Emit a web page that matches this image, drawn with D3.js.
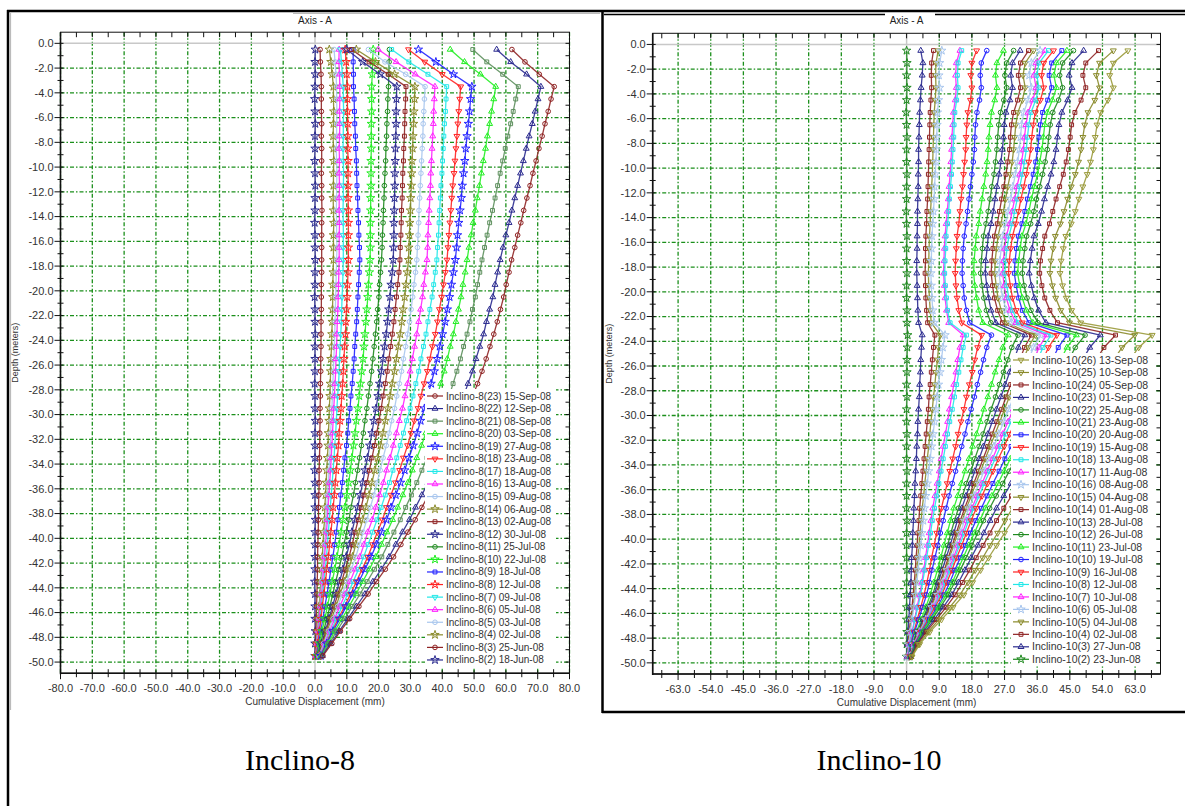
<!DOCTYPE html>
<html>
<head>
<meta charset="utf-8">
<script src="https://cdn.jsdelivr.net/npm/d3@7"></script>
<style>
  body { margin: 0; background: #fff; }
  svg { display: block; font-family: "Liberation Sans", Arial, sans-serif; }
</style>
</head>
<body>
<svg id="fig" width="1185" height="806"></svg>
<script>
// reading depths (m), one every metre
const depths = [-0.5,-1.5,-2.5,-3.5,-4.5,-5.5,-6.5,-7.5,-8.5,-9.5,-10.5,-11.5,-12.5,-13.5,-14.5,-15.5,-16.5,-17.5,-18.5,-19.5,
  -20.5,-21.5,-22.5,-23.5,-24.5,-25.5,-26.5,-27.5,-28.5,-29.5,-30.5,-31.5,-32.5,-33.5,-34.5,-35.5,-36.5,-37.5,-38.5,-39.5,
  -40.5,-41.5,-42.5,-43.5,-44.5,-45.5,-46.5,-47.5,-48.5,-49.5];

const yTicks = [0,-2,-4,-6,-8,-10,-12,-14,-16,-18,-20,-22,-24,-26,-28,-30,-32,-34,-36,-38,-40,-42,-44,-46,-48,-50];
const i8XTicks = [-80,-70,-60,-50,-40,-30,-20,-10,0,10,20,30,40,50,60,70,80];
const i10XTicks = [-63,-54,-45,-36,-27,-18,-9,0,9,18,27,36,45,54,63];

// ---- Inclino-8, series (2) .. (23)
const i8Labels = ["Inclino-8(2) 18-Jun-08","Inclino-8(3) 25-Jun-08","Inclino-8(4) 02-Jul-08","Inclino-8(5) 03-Jul-08",
  "Inclino-8(6) 05-Jul-08","Inclino-8(7) 09-Jul-08","Inclino-8(8) 12-Jul-08","Inclino-8(9) 18-Jul-08","Inclino-8(10) 22-Jul-08",
  "Inclino-8(11) 25-Jul-08","Inclino-8(12) 30-Jul-08","Inclino-8(13) 02-Aug-08","Inclino-8(14) 06-Aug-08","Inclino-8(15) 09-Aug-08",
  "Inclino-8(16) 13-Aug-08","Inclino-8(17) 18-Aug-08","Inclino-8(18) 23-Aug-08","Inclino-8(19) 27-Aug-08","Inclino-8(20) 03-Sep-08",
  "Inclino-8(21) 08-Sep-08","Inclino-8(22) 12-Sep-08","Inclino-8(23) 15-Sep-08"];
const i8Colors = ["#2a2a8f","#8f2323","#8a8a2a","#a8c6ee","#ff22ff","#22e8e8","#ff2222","#2222ff","#22ee22","#1f8a1f",
  "#2a2a8f","#8f2323","#8a8a2a","#a8c6ee","#ff22ff","#22e8e8","#ff2222","#2222ff","#22ee22","#5c8f5c","#2a2a8f","#8f2323"];
const i8Symbols = ["star","circle","star","circle","triangle","triDown","star","square","star","circle",
  "star","square","star","circle","triangle","square","triDown","star","triangle","square","triangle","circle"];
const i8Values = [
  [0.1,0,0.1,0,-0.1,0,0.1,0,0,-0.1,0,0.1,0,0,-0.1,0,0,0.1,0,0,-0.1,0,0,0.1,0,0,0,-0.1,0,0,0.1,0,0,0,-0.1,0,0,0,0.1,0,0,0,0,-0.1,0,0,0,0.1,0,0],
  [1.6,1.7,1.9,2.0,2.0,2.0,2.1,2.0,2.1,2.1,2.0,2.1,2.1,2.2,2.1,2.1,2.1,2.1,2.1,2.0,2.0,2.0,1.9,1.9,1.9,1.8,1.8,1.7,1.7,1.6,1.6,1.5,1.5,1.4,1.3,1.3,1.2,1.1,1.1,1.0,0.9,0.8,0.8,0.7,0.6,0.5,0.4,0.3,0.2,0.1],
  [4.5,5.0,5.4,5.8,5.8,5.9,5.8,5.7,5.8,5.9,5.8,5.8,5.7,5.8,5.9,5.8,5.8,5.8,5.7,5.6,5.6,5.5,5.4,5.3,5.2,5.0,4.9,4.8,4.7,4.5,4.4,4.2,4.1,3.9,3.7,3.5,3.3,3.1,3.0,2.7,2.5,2.3,2.1,1.8,1.6,1.3,1.0,0.8,0.5,0.2],
  [6.0,6.3,6.6,6.8,6.8,6.9,6.8,6.8,6.7,6.8,6.9,6.8,6.8,6.7,6.8,6.8,6.9,6.8,6.7,6.6,6.5,6.4,6.3,6.2,6.1,5.9,5.8,5.6,5.5,5.3,5.1,4.9,4.8,4.6,4.4,4.1,3.9,3.7,3.5,3.2,3.0,2.7,2.4,2.1,1.8,1.5,1.2,0.9,0.6,0.3],
  [7.6,7.5,7.7,7.8,7.8,7.7,7.8,7.7,7.6,7.7,7.6,7.7,7.6,7.6,7.7,7.6,7.6,7.6,7.5,7.4,7.3,7.2,7.0,6.9,6.8,6.6,6.5,6.3,6.1,5.9,5.7,5.5,5.3,5.1,4.9,4.6,4.4,4.1,3.9,3.6,3.3,3.0,2.7,2.4,2.1,1.7,1.3,1.0,0.6,0.3],
  [8.0,8.3,8.6,8.9,8.9,9.0,8.9,8.9,8.8,8.9,9.0,8.9,8.9,8.8,8.9,8.9,8.9,8.9,8.8,8.7,8.5,8.4,8.3,8.1,7.9,7.7,7.6,7.4,7.1,6.9,6.7,6.5,6.2,6.0,5.7,5.4,5.1,4.8,4.5,4.2,3.9,3.6,3.2,2.8,2.4,2.0,1.6,1.2,0.8,0.4],
  [9.5,9.8,10.0,10.2,10.2,10.2,10.3,10.3,10.3,10.4,10.4,10.4,10.4,10.5,10.5,10.5,10.5,10.5,10.4,10.2,10.1,9.9,9.7,9.6,9.3,9.1,8.9,8.7,8.4,8.2,7.9,7.6,7.4,7.0,6.7,6.4,6.1,5.7,5.4,5.0,4.6,4.2,3.7,3.3,2.8,2.3,1.9,1.4,0.9,0.4],
  [12.0,12.0,12.1,12.1,12.3,12.4,12.5,12.7,12.8,13.0,13.1,13.2,13.4,13.5,13.7,13.8,14.0,14.1,13.9,13.7,13.5,13.3,13.1,12.8,12.5,12.3,12.0,11.7,11.3,11.0,10.6,10.3,9.9,9.4,9.0,8.6,8.1,7.7,7.2,6.7,6.2,5.6,5.0,4.4,3.8,3.1,2.5,1.8,1.2,0.6],
  [18.3,18.1,18.0,17.8,17.8,17.8,17.7,17.7,17.7,17.6,17.6,17.6,17.5,17.5,17.4,17.4,17.4,17.3,17.1,16.8,16.6,16.3,16.0,15.7,15.4,15.1,14.7,14.3,13.9,13.5,13.0,12.6,12.1,11.6,11.1,10.6,10.0,9.4,8.8,8.2,7.6,6.9,6.2,5.4,4.7,3.9,3.1,2.2,1.5,0.7],
  [23.4,23.3,23.2,23.1,22.9,22.8,22.6,22.5,22.3,22.2,22.0,21.8,21.7,21.5,21.4,21.2,21.1,20.9,20.6,20.3,20.1,19.7,19.4,19.0,18.6,18.2,17.8,17.3,16.8,16.3,15.7,15.2,14.6,14.0,13.4,12.7,12.1,11.3,10.7,9.9,9.1,8.4,7.5,6.5,5.6,4.7,3.7,2.7,1.8,0.8],
  [10.0,15.0,20.5,25.7,25.6,25.5,25.5,25.4,25.3,25.2,25.1,25.1,25.0,24.9,24.8,24.8,24.7,24.6,24.3,23.9,23.6,23.2,22.8,22.4,21.9,21.4,20.9,20.3,19.8,19.2,18.5,17.9,17.2,16.5,15.7,15.0,14.2,13.4,12.5,11.6,10.8,9.8,8.8,7.7,6.6,5.5,4.4,3.2,2.1,1.0],
  [11.5,17.0,23.0,28.6,28.5,28.3,28.2,28.1,27.9,27.8,27.6,27.5,27.4,27.2,27.1,27.0,26.8,26.7,26.4,26.0,25.6,25.2,24.8,24.3,23.8,23.2,22.7,22.1,21.4,20.8,20.1,19.4,18.7,17.9,17.1,16.3,15.4,14.5,13.6,12.6,11.7,10.7,9.5,8.4,7.2,6.0,4.7,3.5,2.3,1.1],
  [13.0,19.0,25.0,31.4,31.3,31.1,31.0,30.8,30.7,30.5,30.4,30.3,30.1,30.0,29.8,29.7,29.5,29.4,29.0,28.6,28.2,27.7,27.3,26.8,26.2,25.6,25.0,24.3,23.6,22.9,22.1,21.4,20.6,19.7,18.8,17.9,17.0,16.0,15.0,13.9,12.8,11.8,10.5,9.2,7.9,6.6,5.2,3.8,2.5,1.2],
  [16.8,22.0,28.5,34.6,34.4,34.2,34.0,33.9,33.7,33.5,33.3,33.1,32.9,32.7,32.6,32.4,32.2,32.0,31.6,31.1,30.7,30.2,29.7,29.1,28.5,27.8,27.2,26.5,25.7,25.0,24.1,23.3,22.4,21.4,20.5,19.5,18.5,17.4,16.3,15.1,14.0,12.8,11.4,10.0,8.6,7.1,5.7,4.2,2.7,1.3],
  [19.9,25.5,31.5,37.7,37.5,37.3,37.2,37.0,36.8,36.6,36.4,36.3,36.1,35.9,35.7,35.5,35.4,35.2,34.7,34.2,33.8,33.2,32.6,32.0,31.3,30.6,29.9,29.1,28.3,27.5,26.5,25.6,24.6,23.6,22.5,21.5,20.3,19.1,18.0,16.6,15.4,14.1,12.6,11.0,9.5,7.8,6.2,4.6,3.0,1.4],
  [24.1,29.5,35.5,41.4,41.2,41.0,40.7,40.5,40.3,40.1,39.9,39.6,39.4,39.2,39.0,38.8,38.5,38.3,37.8,37.3,36.8,36.1,35.5,34.9,34.1,33.3,32.6,31.7,30.8,29.9,28.8,27.8,26.8,25.7,24.5,23.4,22.1,20.8,19.5,18.1,16.7,15.3,13.7,12.0,10.3,8.5,6.8,5.0,3.3,1.5],
  [29.4,34.5,40.0,45.8,45.5,45.2,44.9,44.6,44.3,44.0,43.7,43.3,43.0,42.7,42.4,42.1,41.8,41.5,41.0,40.4,39.8,39.1,38.5,37.8,36.9,36.1,35.3,34.3,33.3,32.4,31.2,30.2,29.1,27.8,26.6,25.3,23.9,22.5,21.2,19.6,18.1,16.6,14.8,13.0,11.2,9.3,7.3,5.4,3.5,1.7],
  [32.5,38.0,43.5,49.3,48.9,48.6,48.2,47.8,47.4,47.1,46.7,46.3,46.0,45.6,45.2,44.8,44.5,44.1,43.5,42.9,42.3,41.6,40.9,40.1,39.2,38.4,37.5,36.5,35.4,34.4,33.2,32.1,30.9,29.5,28.2,26.9,25.4,23.9,22.5,20.9,19.3,17.6,15.7,13.8,11.9,9.8,7.8,5.7,3.7,1.8],
  [42.5,47.0,52.0,56.8,56.2,55.5,54.9,54.2,53.6,52.9,52.3,51.7,51.0,50.4,49.7,49.1,48.4,47.8,47.2,46.5,45.9,45.1,44.3,43.5,42.5,41.6,40.6,39.5,38.4,37.3,36.0,34.8,33.5,32.0,30.6,29.2,27.6,26.0,24.4,22.6,20.9,19.1,17.1,15.0,12.9,10.7,8.5,6.2,4.1,1.9],
  [49.6,54.0,59.0,63.9,63.1,62.3,61.5,60.6,59.8,59.0,58.2,57.4,56.6,55.8,54.9,54.1,53.3,52.5,51.8,51.1,50.4,49.5,48.7,47.8,46.7,45.7,44.6,43.4,42.2,41.0,39.5,38.2,36.8,35.2,33.6,32.0,30.3,28.5,26.8,24.8,22.9,21.0,18.7,16.4,14.2,11.7,9.3,6.8,4.5,2.1],
  [57.1,61.5,66.5,71.0,70.1,69.2,68.3,67.3,66.4,65.5,64.6,63.7,62.8,61.9,61.0,60.0,59.1,58.2,57.4,56.6,55.9,54.9,53.9,53.0,51.8,50.6,49.5,48.1,46.7,45.4,43.8,42.3,40.7,39.0,37.2,35.5,33.6,31.6,29.7,27.5,25.4,23.3,20.8,18.2,15.7,13.0,10.3,7.6,4.9,2.3],
  [61.9,66.0,70.5,75.2,74.2,73.3,72.3,71.4,70.4,69.5,68.5,67.6,66.6,65.6,64.7,63.7,62.8,61.8,61.0,60.1,59.3,58.3,57.3,56.2,55.0,53.8,52.5,51.1,49.6,48.2,46.5,44.9,43.3,41.4,39.6,37.7,35.7,33.6,31.5,29.2,27.0,24.7,22.1,19.3,16.7,13.8,10.9,8.0,5.3,2.5]
];

// ---- Inclino-10, series (2) .. (26)
const i10Labels = ["Inclino-10(2) 23-Jun-08","Inclino-10(3) 27-Jun-08","Inclino-10(4) 02-Jul-08","Inclino-10(5) 04-Jul-08",
  "Inclino-10(6) 05-Jul-08","Inclino-10(7) 10-Jul-08","Inclino-10(8) 12-Jul-08","Inclino-10(9) 16-Jul-08","Inclino-10(10) 19-Jul-08",
  "Inclino-10(11) 23-Jul-08","Inclino-10(12) 26-Jul-08","Inclino-10(13) 28-Jul-08","Inclino-10(14) 01-Aug-08","Inclino-10(15) 04-Aug-08",
  "Inclino-10(16) 08-Aug-08","Inclino-10(17) 11-Aug-08","Inclino-10(18) 13-Aug-08","Inclino-10(19) 15-Aug-08","Inclino-10(20) 20-Aug-08",
  "Inclino-10(21) 23-Aug-08","Inclino-10(22) 25-Aug-08","Inclino-10(23) 01-Sep-08","Inclino-10(24) 05-Sep-08","Inclino-10(25) 10-Sep-08",
  "Inclino-10(26) 13-Sep-08"];
const i10Colors = ["#1f8a1f","#2a2a8f","#8f2323","#8a8a2a","#a8c6ee","#ff22ff","#22e8e8","#ff2222","#2222ff","#22ee22",
  "#1f8a1f","#2a2a8f","#8f2323","#8a8a2a","#a8c6ee","#ff22ff","#22e8e8","#ff2222","#2222ff","#22ee22",
  "#1f8a1f","#2a2a8f","#8f2323","#8a8a2a","#9a9a3a"];
const i10Symbols = ["star","triangle","square","triDown","star","triangle","square","triDown","circle","triangle",
  "circle","triangle","square","triDown","star","triangle","square","triDown","square","triangle",
  "circle","triangle","square","triDown","triDown"];
const i10Values = [
  [0,0.1,0,0.1,0,-0.1,0,0.1,0,0,0.1,0,0,-0.1,0,0.1,0,0,0.1,0,0,0.1,0.1,0.3,0.2,0.1,0.1,0,0.1,0,0,0.1,0,0,0.1,0,0,0,0.1,0,0,0,0.1,0,0,0,0,0.1,0,0],
  [3.9,4.5,4.3,4.0,3.8,3.6,3.5,3.4,3.3,3.3,3.2,3.2,3.1,3.0,3.0,2.9,2.9,2.8,2.8,2.9,3.0,3.1,3.3,4.3,4.1,3.9,3.8,3.6,3.5,3.3,3.1,3.0,2.8,2.7,2.5,2.3,2.2,2.0,1.9,1.7,1.6,1.4,1.3,1.2,1.0,0.8,0.6,0.4,0.2,0.1],
  [7.4,6.9,6.8,6.9,6.7,6.5,6.4,6.3,6.2,6.1,6.0,5.9,5.8,5.6,5.5,5.3,5.2,5.2,5.1,5.2,5.3,5.5,5.8,7.8,7.4,7.1,6.8,6.5,6.2,6.0,5.7,5.4,5.1,4.8,4.5,4.2,3.9,3.6,3.4,3.1,2.9,2.6,2.4,2.1,1.8,1.5,1.1,0.7,0.4,0.2],
  [8.7,8.1,8.0,8.1,7.9,7.6,7.5,7.4,7.3,7.2,7.1,6.9,6.8,6.6,6.5,6.3,6.2,6.1,6.0,6.1,6.3,6.5,6.8,9.3,8.8,8.5,8.1,7.8,7.4,7.1,6.7,6.4,6.1,5.7,5.4,5.0,4.7,4.3,4.0,3.7,3.4,3.1,2.8,2.5,2.2,1.8,1.3,0.9,0.5,0.2],
  [9.7,9.1,8.9,9.1,8.8,8.5,8.4,8.3,8.2,8.1,7.9,7.7,7.6,7.4,7.2,7.0,6.9,6.8,6.7,6.8,7.0,7.2,7.6,10.6,10.0,9.6,9.2,8.8,8.4,8.1,7.7,7.3,6.9,6.5,6.1,5.7,5.3,4.9,4.6,4.2,3.9,3.5,3.2,2.8,2.5,2.0,1.5,1.0,0.6,0.2],
  [14.7,13.7,13.5,13.7,13.4,12.9,12.7,12.5,12.4,12.2,12.0,11.7,11.5,11.2,10.9,10.6,10.4,10.3,10.2,10.4,10.6,11.0,11.6,15.6,14.7,14.1,13.6,13.0,12.4,11.8,11.3,10.7,10.1,9.5,9.0,8.4,7.8,7.2,6.7,6.2,5.7,5.2,4.7,4.2,3.6,2.9,2.2,1.5,0.8,0.3],
  [15.2,14.2,14.0,14.2,13.8,13.3,13.1,13.0,12.8,12.6,12.4,12.1,11.8,11.6,11.3,10.9,10.8,10.6,10.5,10.7,11.0,11.3,12.0,16.5,15.6,15.0,14.4,13.8,13.2,12.6,11.9,11.3,10.7,10.1,9.5,8.9,8.3,7.7,7.1,6.6,6.1,5.5,5.0,4.4,3.9,3.1,2.3,1.6,0.9,0.4],
  [19.3,18.0,17.7,18.0,17.6,16.9,16.6,16.4,16.3,16.0,15.7,15.4,15.0,14.7,14.4,13.9,13.7,13.5,13.4,13.6,13.9,14.4,15.2,20.7,19.6,18.8,18.1,17.3,16.5,15.8,15.0,14.2,13.5,12.7,11.9,11.2,10.4,9.6,8.9,8.3,7.6,6.9,6.3,5.6,4.8,3.9,2.9,2.0,1.1,0.5],
  [22.1,20.6,20.3,20.6,20.1,19.4,19.0,18.8,18.7,18.4,18.0,17.6,17.2,16.8,16.4,15.9,15.6,15.4,15.3,15.6,15.9,16.5,17.4,23.4,22.1,21.2,20.4,19.5,18.7,17.8,16.9,16.1,15.2,14.3,13.5,12.6,11.7,10.9,10.1,9.3,8.6,7.8,7.0,6.3,5.5,4.4,3.3,2.2,1.2,0.5],
  [26.7,24.9,24.5,24.9,24.3,23.4,23.0,22.7,22.5,22.2,21.8,21.3,20.8,20.3,19.9,19.2,18.9,18.6,18.5,18.8,19.3,19.9,21.0,28.0,26.5,25.5,24.4,23.4,22.4,21.3,20.3,19.3,18.2,17.2,16.1,15.1,14.1,13.0,12.1,11.2,10.3,9.4,8.5,7.5,6.5,5.3,4.0,2.7,1.5,0.6],
  [29.5,27.6,27.1,27.6,26.8,25.9,25.4,25.1,24.9,24.5,24.1,23.5,23.0,22.5,21.9,21.2,20.9,20.6,20.4,20.8,21.3,22.0,23.2,30.7,29.0,27.9,26.7,25.6,24.5,23.3,22.2,21.1,20.0,18.8,17.7,16.5,15.4,14.3,13.2,12.2,11.3,10.2,9.3,8.2,7.2,5.8,4.4,2.9,1.6,0.7],
  [31.3,29.2,28.7,29.2,28.5,27.4,26.9,26.7,26.4,26.0,25.5,24.9,24.4,23.9,23.3,22.5,22.2,21.8,21.7,22.1,22.6,23.3,24.6,32.6,30.8,29.6,28.4,27.2,26.0,24.8,23.6,22.4,21.2,20.0,18.8,17.6,16.4,15.2,14.0,13.0,12.0,10.9,9.8,8.7,7.6,6.2,4.6,3.1,1.7,0.7],
  [33.6,31.4,30.8,31.4,30.6,29.5,28.9,28.6,28.4,27.9,27.4,26.8,26.2,25.6,25.0,24.2,23.8,23.5,23.3,23.7,24.2,25.1,26.4,34.4,32.5,31.2,30.0,28.7,27.4,26.2,24.9,23.6,22.4,21.1,19.8,18.5,17.3,16.0,14.8,13.7,12.6,11.5,10.4,9.2,8.0,6.5,4.9,3.3,1.8,0.7],
  [35.0,32.7,32.1,32.7,31.9,30.7,30.1,29.8,29.5,29.1,28.6,27.9,27.3,26.7,26.0,25.2,24.8,24.4,24.3,24.7,25.2,26.1,27.5,35.5,33.5,32.2,30.9,29.6,28.3,27.0,25.7,24.4,23.0,21.7,20.4,19.1,17.8,16.5,15.3,14.1,13.0,11.8,10.7,9.5,8.3,6.7,5.0,3.4,1.9,0.8],
  [36.8,34.4,33.8,34.4,33.5,32.3,31.7,31.4,31.1,30.6,30.0,29.3,28.7,28.0,27.4,26.5,26.1,25.7,25.5,25.9,26.5,27.5,29.0,37.0,35.0,33.6,32.3,30.9,29.5,28.2,26.8,25.4,24.1,22.7,21.3,20.0,18.6,17.2,16.0,14.8,13.6,12.4,11.2,9.9,8.6,7.0,5.3,3.5,2.0,0.8],
  [38.2,35.7,35.1,35.7,34.8,33.5,32.9,32.5,32.2,31.7,31.2,30.4,29.8,29.1,28.4,27.5,27.0,26.7,26.5,26.9,27.5,28.5,30.1,38.6,36.5,35.1,33.7,32.2,30.8,29.4,28.0,26.5,25.1,23.7,22.2,20.8,19.4,18.0,16.6,15.4,14.2,12.9,11.6,10.4,9.0,7.3,5.5,3.7,2.0,0.8],
  [39.1,36.5,35.9,36.5,35.6,34.3,33.7,33.3,33.0,32.5,31.9,31.2,30.5,29.8,29.1,28.2,27.7,27.3,27.1,27.6,28.2,29.2,30.8,39.8,37.6,36.1,34.7,33.2,31.7,30.3,28.8,27.3,25.9,24.4,22.9,21.4,20.0,18.5,17.1,15.9,14.6,13.3,12.0,10.7,9.3,7.5,5.6,3.8,2.1,0.9],
  [40.5,37.8,37.2,37.8,36.9,35.5,34.9,34.5,34.2,33.7,33.0,32.3,31.5,30.9,30.1,29.2,28.7,28.3,28.1,28.6,29.2,30.2,31.9,41.4,39.1,37.6,36.1,34.5,33.0,31.5,30.0,28.4,26.9,25.3,23.8,22.3,20.8,19.2,17.8,16.5,15.2,13.8,12.5,11.1,9.7,7.8,5.9,3.9,2.2,0.9],
  [42.8,40.0,39.3,40.0,38.9,37.5,36.9,36.5,36.1,35.6,34.9,34.1,33.3,32.6,31.8,30.8,30.3,29.9,29.7,30.2,30.9,31.9,33.7,44.2,41.8,40.2,38.5,36.9,35.3,33.6,32.0,30.4,28.8,27.1,25.5,23.8,22.2,20.6,19.1,17.6,16.2,14.8,13.3,11.9,10.3,8.4,6.3,4.2,2.3,1.0],
  [44.2,41.3,40.6,41.3,40.2,38.8,38.1,37.7,37.3,36.7,36.1,35.2,34.4,33.7,32.9,31.8,31.3,30.9,30.6,31.2,31.9,33.0,34.8,46.8,44.2,42.5,40.8,39.0,37.3,35.6,33.9,32.1,30.4,28.6,26.9,25.2,23.5,21.7,20.2,18.7,17.1,15.6,14.1,12.6,10.9,8.8,6.6,4.4,2.5,1.0],
  [46.0,43.0,42.2,43.0,41.9,40.3,39.6,39.2,38.8,38.2,37.5,36.7,35.8,35.1,34.2,33.1,32.6,32.1,31.9,32.4,33.2,34.3,36.2,49.2,46.5,44.7,42.9,41.1,39.2,37.4,35.6,33.8,32.0,30.1,28.3,26.5,24.7,22.9,21.2,19.6,18.0,16.4,14.8,13.2,11.5,9.3,7.0,4.7,2.6,1.1],
  [48.8,45.6,44.8,45.6,44.4,42.8,42.0,41.6,41.2,40.6,39.8,38.9,38.0,37.2,36.3,35.1,34.6,34.1,33.8,34.4,35.2,36.4,38.4,53.4,50.5,48.5,46.6,44.6,42.6,40.7,38.7,36.7,34.7,32.7,30.8,28.8,26.8,24.8,23.0,21.3,19.6,17.8,16.1,14.3,12.5,10.1,7.6,5.1,2.8,1.2],
  [52.9,49.4,48.6,49.4,48.1,46.4,45.5,45.1,44.6,44.0,43.2,42.2,41.2,40.3,39.4,38.1,37.5,36.9,36.7,37.3,38.1,39.5,41.6,57.6,54.4,52.3,50.2,48.0,45.9,43.8,41.7,39.5,37.4,35.3,33.1,31.0,28.9,26.8,24.8,23.0,21.1,19.2,17.4,15.4,13.4,10.9,8.2,5.4,3.0,1.3],
  [57.0,53.2,52.3,53.2,51.9,50.0,49.1,48.6,48.1,47.4,46.5,45.4,44.4,43.4,42.4,41.0,40.4,39.8,39.5,40.2,41.1,42.5,44.9,62.9,59.4,57.1,54.8,52.5,50.1,47.8,45.5,43.2,40.9,38.5,36.2,33.9,31.5,29.2,27.1,25.1,23.0,21.0,18.9,16.9,14.7,11.9,8.9,5.9,3.3,1.4],
  [61.0,57.0,56.0,57.0,55.5,53.5,52.5,52.0,51.5,50.7,49.8,48.6,47.5,46.5,45.4,43.9,43.2,42.6,42.3,43.0,44.0,45.5,48.0,67.7,64.0,61.5,59.0,56.5,54.0,51.5,49.0,46.5,44.0,41.5,39.0,36.5,34.0,31.5,29.2,27.0,24.8,22.6,20.4,18.2,15.8,12.8,9.6,6.4,3.6,1.5]
];

const gridColor = "#1b8f1b";
const textColor = "#333";
const svg = d3.select("#fig");

const symbolTypes = {
  circle: d3.symbolCircle, square: d3.symbolSquare, triangle: d3.symbolTriangle,
  triDown: d3.symbolTriangle, star: d3.symbolStar, diamond: d3.symbolDiamond
};

function markerPath(sym) {
  const size = sym === "star" ? 22 : (sym === "circle" ? 17 : 15);
  return d3.symbol(symbolTypes[sym], size)();
}

function drawPanel(p) {
  const x = d3.scaleLinear().domain(p.xDomain).range([p.left, p.right]);
  const y = d3.scaleLinear().domain([0.9, -50.9]).range([p.top, p.bottom]);
  const g = svg.append("g");

  // dash-dot green grid
  g.selectAll(null).data(p.xTicks.filter(d => d !== 0)).join("line")
    .attr("x1", d => x(d)).attr("x2", d => x(d))
    .attr("y1", p.top).attr("y2", p.bottom)
    .attr("stroke", gridColor).attr("stroke-width", 1.3)
    .attr("stroke-dasharray", "4,2,1.5,2");
  g.selectAll(null).data(yTicks.filter(d => d !== 0)).join("line")
    .attr("x1", p.left).attr("x2", p.right)
    .attr("y1", d => y(d)).attr("y2", d => y(d))
    .attr("stroke", gridColor).attr("stroke-width", 1.3)
    .attr("stroke-dasharray", "4,2,1.5,2");

  // grey zero lines
  g.append("line").attr("x1", x(0)).attr("x2", x(0)).attr("y1", p.top).attr("y2", p.bottom)
    .attr("stroke", "#c8c8c8").attr("stroke-width", 1.5);
  g.append("line").attr("x1", p.left).attr("x2", p.right).attr("y1", y(0)).attr("y2", y(0))
    .attr("stroke", "#c8c8c8").attr("stroke-width", 1.5);

  const line = d3.line().x(v => x(v)).y((v, i) => y(depths[i]));

  p.values.forEach((vals, k) => {
    const col = p.colors[k];
    const sym = p.symbols[k];
    g.append("path").datum(vals)
      .attr("d", line)
      .attr("fill", "none").attr("stroke", col).attr("stroke-width", 1.3)
      .attr("stroke-opacity", 0.9);
    g.selectAll(null).data(vals).join("path")
      .attr("transform", (v, i) => `translate(${x(v)},${y(depths[i])})` + (sym === "triDown" ? " rotate(180)" : ""))
      .attr("d", markerPath(sym))
      .attr("fill", "none").attr("stroke", col).attr("stroke-width", 1);
  });

  // legend (latest reading on top)
  const lg = g.append("g");
  lg.append("rect")
    .attr("x", p.legend.x0).attr("y", p.legend.top - 7)
    .attr("width", p.legend.x1 - p.legend.x0)
    .attr("height", p.legend.step * (p.labels.length - 1) + 14)
    .attr("fill", "#fff");
  const order = d3.range(p.labels.length).reverse();
  order.forEach((k, row) => {
    const ly = p.legend.top + row * p.legend.step;
    const mx = p.legend.mx;
    lg.append("line").attr("x1", mx - 8).attr("x2", mx + 8).attr("y1", ly).attr("y2", ly)
      .attr("stroke", p.colors[k]).attr("stroke-width", 1.2);
    lg.append("path")
      .attr("transform", `translate(${mx},${ly})` + (p.symbols[k] === "triDown" ? " rotate(180)" : ""))
      .attr("d", markerPath(p.symbols[k]))
      .attr("fill", "none").attr("stroke", p.colors[k]).attr("stroke-width", 1);
    lg.append("text").attr("x", mx + 11).attr("y", ly).attr("dy", "0.35em")
      .attr("font-size", p.legend.font).attr("fill", textColor)
      .text(p.labels[k]);
  });

  // frame
  g.append("rect").attr("x", p.left).attr("y", p.top)
    .attr("width", p.right - p.left).attr("height", p.bottom - p.top)
    .attr("fill", "none").attr("stroke", "#111").attr("stroke-width", 1);
  g.append("line").attr("x1", p.left).attr("x2", p.left).attr("y1", p.top).attr("y2", p.bottom + 1)
    .attr("stroke", "#111").attr("stroke-width", 1.6);
  g.append("line").attr("x1", p.left).attr("x2", p.right).attr("y1", p.bottom).attr("y2", p.bottom)
    .attr("stroke", "#111").attr("stroke-width", 1.6);

  // left axis ticks + labels
  g.selectAll(null).data(yTicks).join("line")
    .attr("x1", p.left - 6).attr("x2", p.left + 3)
    .attr("y1", d => y(d)).attr("y2", d => y(d)).attr("stroke", "#111");
  g.selectAll(null).data(d3.range(-1, -51, -2)).join("line")
    .attr("x1", p.left - 3).attr("x2", p.left + 3)
    .attr("y1", d => y(d)).attr("y2", d => y(d)).attr("stroke", "#111");
  g.selectAll(null).data(yTicks).join("text")
    .attr("x", p.left - 7).attr("y", d => y(d)).attr("dy", "0.35em")
    .attr("text-anchor", "end").attr("font-size", 11).attr("fill", textColor)
    .text(d => d.toFixed(1));

  // right frame ticks (inward)
  g.selectAll(null).data(d3.range(0, -51, -1)).join("line")
    .attr("x1", p.right - 4).attr("x2", p.right)
    .attr("y1", d => y(d)).attr("y2", d => y(d)).attr("stroke", "#111");

  // top frame ticks (inward)
  g.selectAll(null).data(p.topTicks).join("line")
    .attr("x1", d => x(d)).attr("x2", d => x(d))
    .attr("y1", p.top).attr("y2", p.top + 5).attr("stroke", "#111");

  // bottom axis
  g.selectAll(null).data(p.xTicks).join("line")
    .attr("x1", d => x(d)).attr("x2", d => x(d))
    .attr("y1", p.bottom - 3).attr("y2", p.bottom + 6).attr("stroke", "#111");
  g.selectAll(null).data(p.xMinor).join("line")
    .attr("x1", d => x(d)).attr("x2", d => x(d))
    .attr("y1", p.bottom - 4).attr("y2", p.bottom + 4).attr("stroke", "#111");
  g.selectAll(null).data(p.xTicks).join("text")
    .attr("x", d => x(d)).attr("y", p.bottom + 15).attr("dy", "0.35em")
    .attr("text-anchor", "middle").attr("font-size", 11).attr("fill", textColor)
    .text(d => d.toFixed(1));

  // titles
  g.append("text").attr("x", x(0)).attr("y", p.bottom + 28).attr("dy", "0.35em")
    .attr("text-anchor", "middle").attr("font-size", 10).attr("fill", textColor)
    .text("Cumulative Displacement (mm)");
  g.append("text").attr("transform", `translate(${p.depthX},${(p.top + p.bottom) / 2}) rotate(-90)`)
    .attr("text-anchor", "middle").attr("font-size", 9).attr("fill", textColor)
    .text("Depth (meters)");
  g.append("text").attr("x", x(0)).attr("y", 20).attr("dy", "0.35em")
    .attr("text-anchor", "middle").attr("font-size", 10).attr("fill", "#222")
    .text("Axis - A");

  // caption under the panel
  svg.append("text").attr("x", p.captionX).attr("y", 770)
    .attr("text-anchor", "middle")
    .attr("font-family", "'Liberation Serif','Times New Roman',serif")
    .attr("font-size", 30).attr("fill", "#000")
    .text(p.caption);
}

drawPanel({
  left: 60.5, right: 569.5, top: 32.2, bottom: 673.2,
  xDomain: [-80, 80], xTicks: i8XTicks, xMinor: d3.range(-75, 80, 10),
  topTicks: d3.range(-75, 80, 5),
  values: i8Values, labels: i8Labels, colors: i8Colors, symbols: i8Symbols,
  legend: { x0: 425, x1: 556, top: 396, step: 12.57, mx: 435, font: 10 },
  depthX: 18, caption: "Inclino-8", captionX: 300
});

drawPanel({
  left: 652.7, right: 1160.5, top: 33.3, bottom: 674,
  xDomain: [-70, 70], xTicks: i10XTicks, xMinor: d3.range(-67.5, 70, 9),
  topTicks: d3.range(-67.5, 70, 4.5),
  values: i10Values, labels: i10Labels, colors: i10Colors, symbols: i10Symbols,
  legend: { x0: 1011, x1: 1155, top: 360, step: 12.47, mx: 1021, font: 10.5 },
  depthX: 612, caption: "Inclino-10", captionX: 879
});

// page frame lines around the two pictures
const frame = svg.append("g").attr("stroke", "#000").attr("fill", "none");
frame.append("line").attr("x1", 7).attr("x2", 1185).attr("y1", 11).attr("y2", 11).attr("stroke-width", 2.5);
frame.append("line").attr("x1", 8).attr("x2", 8).attr("y1", 10).attr("y2", 806).attr("stroke-width", 2.5);
frame.append("line").attr("x1", 602.5).attr("x2", 602.5).attr("y1", 10).attr("y2", 713).attr("stroke-width", 2.5);
frame.append("line").attr("x1", 602).attr("x2", 1185).attr("y1", 712).attr("y2", 712).attr("stroke-width", 2.5);
frame.append("line").attr("x1", 604).attr("x2", 885).attr("y1", 14.5).attr("y2", 14.5).attr("stroke-width", 1.3);
frame.append("line").attr("x1", 935).attr("x2", 1185).attr("y1", 14.5).attr("y2", 14.5).attr("stroke-width", 1.3);
frame.append("line").attr("x1", 10.5).attr("x2", 10.5).attr("y1", 13).attr("y2", 710).attr("stroke", "#bbb").attr("stroke-width", 1.2);
frame.append("line").attr("x1", 293).attr("x2", 600).attr("y1", 13.5).attr("y2", 13.5).attr("stroke", "#bbb").attr("stroke-width", 1.2);
</script>
</body>
</html>
